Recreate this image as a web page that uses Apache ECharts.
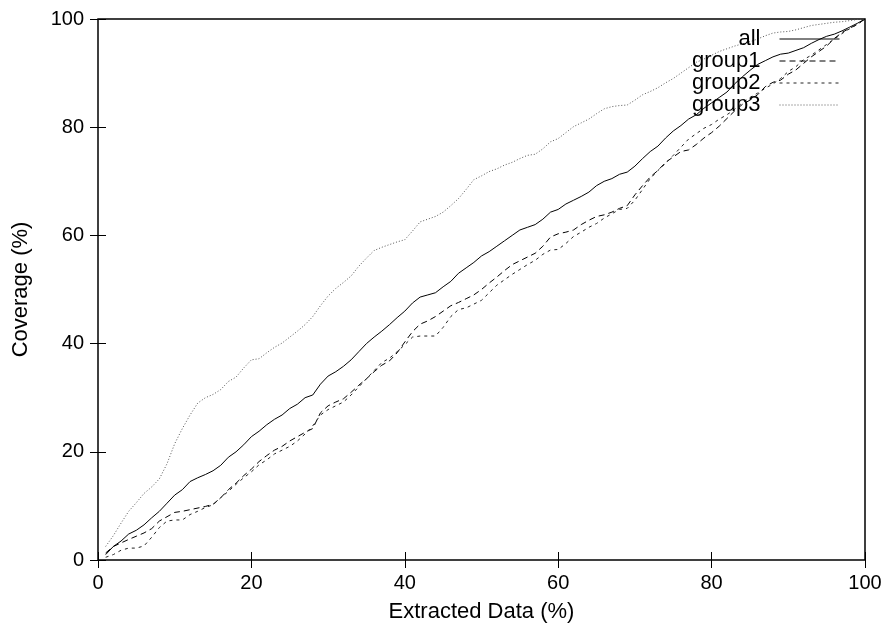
<!DOCTYPE html>
<html>
<head>
<meta charset="utf-8">
<script src="https://cdn.jsdelivr.net/npm/echarts@6/dist/echarts.min.js"></script>
<style>
  html, body { margin: 0; padding: 0; background: #fff; }
  #box { width: 890px; height: 634px; }
</style>
</head>
<body>
<div id="box"></div>
<script>
// values: [extracted data %, coverage %]
const allData = [[1,1],[2,2.5],[3,3.5],[4,4.8],[5,5.5],[6,6.5],[7,7.8],[8,9],[9,10.5],[10,12],[11,13],[12,14.5],[13,15.2],[14,15.8],[15,16.5],[16,17.5],[17,19],[18,20],[19,21.3],[20,22.8],[21,23.8],[22,25],[23,26],[24,26.8],[25,28],[26,28.8],[27,30],[28,30.5],[29,32.5],[30,34],[31,34.8],[32,35.8],[33,37],[34,38.5],[35,40],[36,41.2],[37,42.3],[38,43.5],[39,44.8],[40,46],[41,47.5],[42,48.6],[43,49],[44,49.4],[45,50.5],[46,51.5],[47,53],[48,54],[49,55],[50,56.2],[51,57],[52,58],[53,59],[54,60],[55,61],[56,61.5],[57,62],[58,63],[59,64.3],[60,64.8],[61,65.8],[62,66.5],[63,67.2],[64,68],[65,69.2],[66,70],[67,70.5],[68,71.3],[69,71.7],[70,72.8],[71,74.2],[72,75.5],[73,76.5],[74,78],[75,79.3],[76,80.3],[77,81.5],[78,82.3],[79,83.5],[80,84.5],[81,85.5],[82,86.5],[83,88],[84,89.3],[85,90.5],[86,91.6],[87,92.3],[88,93],[89,93.5],[90,93.7],[91,94.2],[92,94.7],[93,95.5],[94,96.2],[95,96.8],[96,97.2],[97,97.8],[98,98.5],[99,99.2],[100,100]];
const group1Data = [[1,1.3],[2,2.5],[4,3.8],[5,4.4],[6,5],[7,5.8],[8,7.2],[9,8],[10,8.8],[11,9],[12,9.3],[14,9.9],[15,10.3],[16,11.5],[17,13],[18,14.2],[19,15.6],[20,16.8],[21,18.2],[22,19.3],[23,20.3],[24,21],[25,22],[26,22.8],[27,23.6],[28,24.3],[29,27.2],[30,28.5],[31,29.2],[32,29.8],[33,31],[34,32.3],[35,33.5],[36,34.8],[37,36],[38,36.8],[39,38.3],[40,40.3],[41,42.2],[42,43.6],[43,44.2],[44,45],[45,46],[46,47],[47,47.6],[48,48.3],[49,49],[50,50],[51,51.2],[52,52.3],[53,53.5],[54,54.6],[55,55.3],[56,56],[57,56.7],[58,58],[59,59.7],[60,60.3],[61,60.6],[62,61],[63,62],[64,62.8],[65,63.5],[66,63.8],[67,64.3],[68,65],[69,65.5],[70,67.5],[71,69.2],[72,70.8],[73,72],[74,73.5],[75,74.5],[76,75.5],[77,75.8],[78,76.8],[79,78],[80,79],[81,80.2],[82,81.6],[83,83],[84,84.2],[85,85],[86,86],[87,87.5],[88,88.3],[89,88.7],[90,89.8],[91,90.6],[92,91.8],[93,93],[94,94],[95,95],[96,96.4],[97,97.5],[98,98.3],[99,99],[100,100]];
const group2Data = [[1,0.5],[2,1],[3,1.8],[4,2.2],[5,2.2],[6,2.6],[7,4.2],[8,6],[9,7.2],[10,7.4],[11,7.4],[12,8.4],[13,9],[14,9.7],[15,10.2],[16,11.5],[17,12.7],[18,14],[19,15.2],[20,16.3],[21,17.6],[22,18.5],[23,19.6],[24,20.3],[25,21],[26,22],[27,23.3],[28,24.8],[29,26.8],[30,27.8],[31,28.5],[32,29.2],[33,30.5],[34,32],[35,33.5],[36,35],[37,36.5],[38,37.3],[39,38.5],[40,39.8],[41,41.2],[42,41.4],[43,41.4],[44,41.4],[45,43],[46,45],[47,46.3],[48,46.6],[49,47.3],[50,48],[51,49.4],[52,50.8],[53,51.8],[54,52.8],[55,53.7],[56,54.6],[57,55.4],[58,56.5],[59,57.3],[60,57.4],[61,58.5],[62,59.8],[63,60.6],[64,61.5],[65,62.2],[66,63.2],[67,64],[68,64.8],[69,65],[70,66.5],[71,68.5],[72,70.5],[73,72],[74,73.3],[75,74.8],[76,76.3],[77,77.8],[78,78.8],[79,79.8],[80,80.5],[81,81.5],[82,82.3],[83,83.3],[84,84.5],[85,85.5],[86,86.3],[87,87.2],[88,88],[89,89],[90,90.3],[91,91.2],[92,92.5],[93,93.3],[94,94.3],[95,95.3],[96,96.3],[97,97.3],[98,98.2],[99,99],[100,100]];
const group3Data = [[1,2.5],[2,4.5],[3,6.8],[4,9],[5,10.6],[6,12.3],[7,13.5],[8,15],[9,17.8],[10,21.5],[11,24.3],[12,26.8],[13,29],[14,30],[15,30.6],[16,31.5],[17,33],[18,33.8],[19,35.5],[20,37],[21,37.2],[22,38.3],[23,39.3],[24,40.1],[25,41.2],[26,42.3],[27,43.5],[28,45],[29,47],[30,48.8],[31,50.2],[32,51.3],[33,52.5],[34,54.3],[35,55.8],[36,57.2],[37,57.8],[38,58.3],[39,58.8],[40,59.2],[41,60.8],[42,62.5],[43,63],[44,63.5],[45,64.3],[46,65.5],[47,66.8],[48,68.5],[49,70.3],[50,71],[51,71.8],[52,72.3],[53,73],[54,73.5],[55,74.2],[56,74.8],[57,75],[58,76],[59,77.3],[60,77.9],[61,79],[62,80.1],[63,80.8],[64,81.5],[65,82.5],[66,83.4],[67,83.8],[68,84],[69,84.1],[70,85],[71,86],[72,86.6],[73,87.3],[74,88.2],[75,89],[76,90],[77,91],[78,92],[79,92.6],[80,93.3],[81,94],[82,94.5],[83,95],[84,95.4],[85,95.8],[86,96.3],[87,96.9],[88,97.4],[89,97.6],[90,97.7],[91,98],[92,98.4],[93,98.8],[94,99],[95,99.2],[96,99.4],[97,99.5],[98,99.7],[99,99.9],[100,100]];
const seriesNames = ['all', 'group1', 'group2', 'group3'];

const font = 'Liberation Sans, Arial, sans-serif';
const chart = echarts.init(document.getElementById('box'));

function mirrorAxis(pos) {
    return {
        type: 'value', position: pos, min: 0, max: 100, interval: 20,
        axisLine: { show: false },
        axisTick: { inside: true, length: 8, lineStyle: { color: '#000' } },
        axisLabel: { show: false },
        splitLine: { show: false }
    };
}

const option = {
    animation: false,
    backgroundColor: '#fff',
    grid: {
        left: 98, right: 25, top: 19, bottom: 74,
        show: true, borderColor: '#000', borderWidth: 1.5
    },
    legend: {
        orient: 'vertical',
        right: 45, top: 23,
        align: 'right',
        itemGap: 0,
        itemWidth: 60, itemHeight: 14,
        itemStyle: { opacity: 0 },
        lineStyle: { width: 1 },
        textStyle: { fontFamily: font, fontSize: 22, lineHeight: 22, color: '#000', width: 80, align: 'right', padding: [0, 14, 0, 0] },
        data: seriesNames
    },
    xAxis: [{
        type: 'value', min: 0, max: 100, interval: 20,
        name: 'Extracted Data (%)', nameLocation: 'middle', nameGap: 41,
        nameTextStyle: { fontFamily: font, fontSize: 22, color: '#000' },
        axisLine: { show: false },
        axisTick: { inside: true, length: 8, lineStyle: { color: '#000' } },
        axisLabel: { fontFamily: font, fontSize: 20, color: '#000', margin: 13 },
        splitLine: { show: false }
    }, mirrorAxis('top')],
    yAxis: [{
        type: 'value', min: 0, max: 100, interval: 20,
        name: 'Coverage (%)', nameLocation: 'middle', nameGap: 66,
        nameTextStyle: { fontFamily: font, fontSize: 22, color: '#000' },
        axisLine: { show: false },
        axisTick: { inside: true, length: 8, lineStyle: { color: '#000' } },
        axisLabel: { fontFamily: font, fontSize: 20, color: '#000', margin: 14 },
        splitLine: { show: false }
    }, mirrorAxis('right')],
    series: [
        { name: 'all', type: 'line', data: allData, symbol: 'none',
          lineStyle: { color: '#000', width: 1, type: 'solid' }, itemStyle: { color: '#000' } },
        { name: 'group1', type: 'line', data: group1Data, symbol: 'none',
          lineStyle: { color: '#000', width: 1, type: [6, 4] }, itemStyle: { color: '#000' } },
        { name: 'group2', type: 'line', data: group2Data, symbol: 'none',
          lineStyle: { color: '#222', width: 1, type: [3, 4] }, itemStyle: { color: '#222' } },
        { name: 'group3', type: 'line', data: group3Data, symbol: 'none',
          lineStyle: { color: '#555', width: 1, type: [1, 2] }, itemStyle: { color: '#555' } }
    ]
};
chart.setOption(option);
</script>
</body>
</html>
